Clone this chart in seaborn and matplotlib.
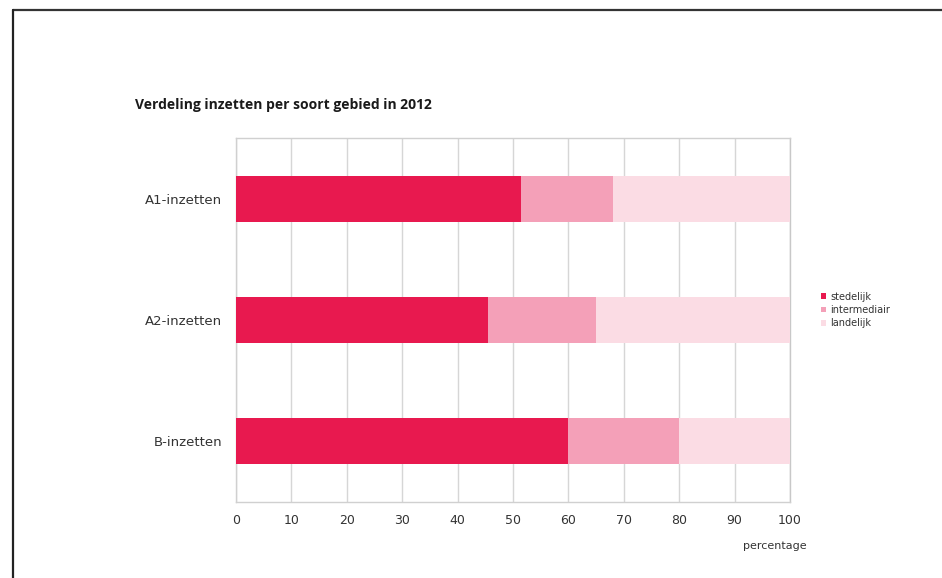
import numpy as np
import pandas as pd
import matplotlib
matplotlib.use("Agg")
import matplotlib.pyplot as plt
from matplotlib.lines import Line2D
from matplotlib.patches import Patch
import seaborn as sns

# Share of deployments per area type (percent)
categories = ["A1-inzetten", "A2-inzetten", "B-inzetten"]
stedelijk = [51.5, 45.5, 60.0]
intermediair = [16.5, 19.5, 20.0]
landelijk = [32.0, 35.0, 20.0]
series_names = ["stedelijk", "intermediair", "landelijk"]
colors = ["#E8194F", "#F4A0B8", "#FBDCE4"]
x_ticks = [0, 10, 20, 30, 40, 50, 60, 70, 80, 90, 100]

sns.set_theme(style="white")
plt.rcParams["font.family"] = ["DejaVu Sans"]

df = pd.DataFrame({
    "categorie": categories,
    "stedelijk": stedelijk,
    "intermediair": intermediair,
    "landelijk": landelijk,
})
# cumulative right edges for the stacked bars
df["c1"] = df["stedelijk"]
df["c2"] = df["c1"] + df["intermediair"]
df["c3"] = df["c2"] + df["landelijk"]

fig = plt.figure(figsize=(9.42, 5.78), dpi=100)
fig.patch.set_facecolor("white")
ax = fig.add_axes([0.2505, 0.1315, 0.5881, 0.6297])
ax.set_facecolor("white")

for col, color in zip(["c3", "c2", "c1"], colors[::-1]):
    sns.barplot(data=df, x=col, y="categorie", orient="h", color=color,
                width=0.38, saturation=1, ax=ax, zorder=3, edgecolor="none")

ax.set_xlim(0, 100)
ax.set_ylim(2.5, -0.5)
ax.set_xticks(x_ticks)
ax.set_xticklabels([str(t) for t in x_ticks], fontsize=9, color="#333333")
ax.tick_params(axis="x", length=4, width=0.8, color="#BBBBBB", pad=7, direction="inout")
ax.tick_params(axis="y", length=0, pad=10, labelsize=9.5, labelcolor="#333333")
ax.set_xlabel("")
ax.set_ylabel("")

ax.grid(axis="x", color="#D6D6D6", linewidth=1, zorder=0)
ax.grid(axis="y", visible=False)
for side in ["left", "bottom", "top"]:
    ax.spines[side].set_visible(True)
    ax.spines[side].set_color("#D0D0D0")
    ax.spines[side].set_linewidth(1)
ax.spines["right"].set_visible(True)
ax.spines["right"].set_color("#C8C8C8")
ax.spines["right"].set_linewidth(1)

ax.text(1.03, -0.121, "percentage", transform=ax.transAxes, ha="right", va="center",
        fontsize=8, color="#333333")

fig.text(135 / 942, 1 - 105 / 578, "Verdeling inzetten per soort gebied in 2012",
         fontsize=10, fontweight="bold", family=["Open Sans", "DejaVu Sans"],
         color="#1A1A1A", va="center", ha="left")

handles = [Patch(facecolor=c, edgecolor="none") for c in colors]
fig.legend(handles, series_names, loc="center left",
           bbox_to_anchor=(812 / 942, 1 - 310 / 578), frameon=False, fontsize=7,
           handlelength=0.5, handleheight=0.5, handletextpad=0.5, labelspacing=0.35,
           labelcolor="#333333")

# page frame along the top and left edge
fig.add_artist(Line2D([13 / 942, 1.0], [1 - 9.5 / 578, 1 - 9.5 / 578],
                      transform=fig.transFigure, color="#333333", linewidth=1.6))
fig.add_artist(Line2D([13 / 942, 13 / 942], [0.0, 1 - 9.5 / 578],
                      transform=fig.transFigure, color="#222222", linewidth=1.6))

fig.savefig("out.png", dpi=100, facecolor="white")
